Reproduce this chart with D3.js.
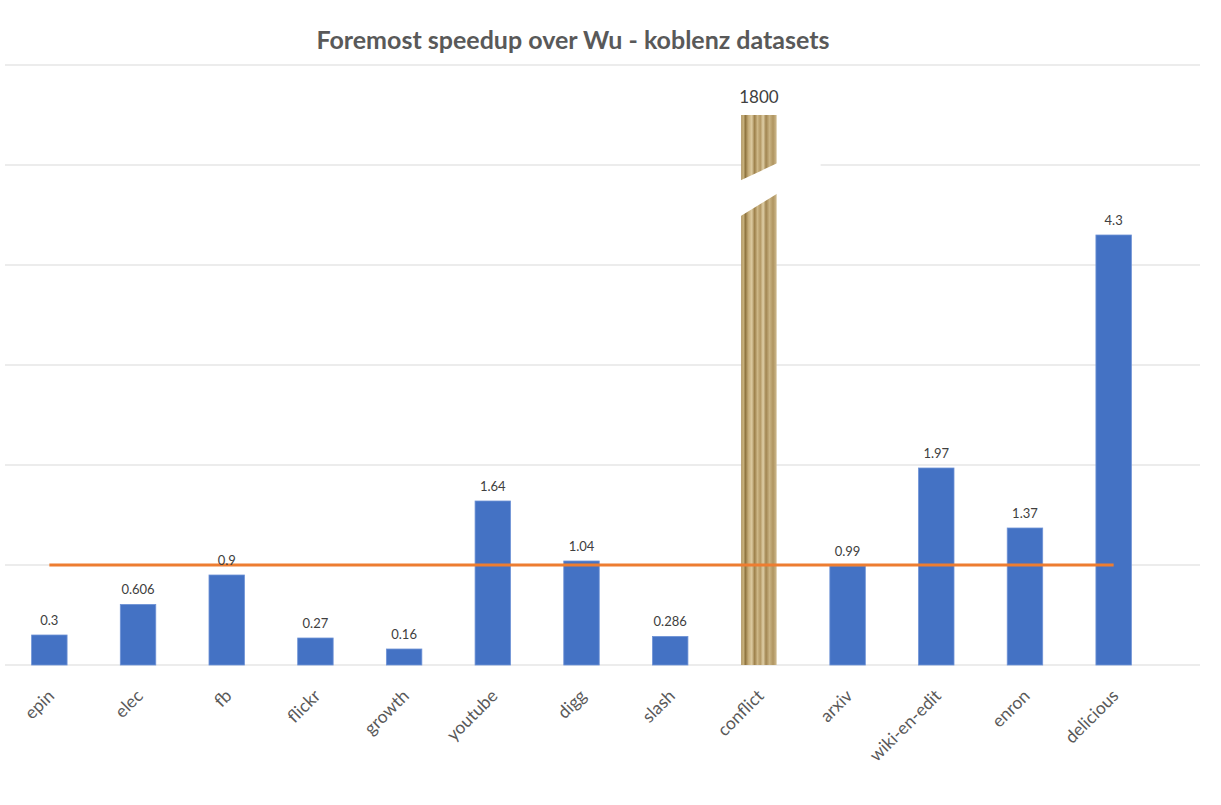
<!DOCTYPE html>
<html>
<head>
<meta charset="utf-8">
<script src="https://cdn.jsdelivr.net/npm/d3@7"></script>
<style>
  body { margin: 0; background: #fff; }
  svg { display: block; font-family: Lato, "Open Sans", sans-serif; }
</style>
</head>
<body>
<svg width="1221" height="805"></svg>
<script>
const width = 1221;
const height = 805;

const datasets = ["epin", "elec", "fb", "flickr", "growth", "youtube", "digg", "slash", "conflict", "arxiv", "wiki-en-edit", "enron", "delicious"];
const speedup = [0.3, 0.606, 0.9, 0.27, 0.16, 1.64, 1.04, 0.286, 1800, 0.99, 1.97, 1.37, 4.3];
const yTicks = [0, 1, 2, 3, 4, 5, 6];
const baseline = 1;      // speedup of 1 = same as Wu
const breakAt = 5.5;     // values above this are drawn as a broken bar

const data = datasets.map((d, i) => ({ name: d, value: speedup[i] }));

const svg = d3.select("svg");

const x = d3.scaleBand()
  .domain(datasets)
  .range([5, 1158])
  .paddingInner(0.6)
  .paddingOuter(0.3);

const y = d3.scaleLinear()
  .domain([0, 6])
  .range([665, 65]);

// title
svg.append("text")
  .attr("x", 573)
  .attr("y", 49)
  .attr("text-anchor", "middle")
  .attr("font-size", 25)
  .attr("font-weight", "bold")
  .attr("fill", "#595959")
  .text("Foremost speedup over Wu - koblenz datasets");

// gridlines
svg.append("g")
  .selectAll("line")
  .data(yTicks)
  .join("line")
  .attr("x1", 5)
  .attr("x2", 1200)
  .attr("y1", d => y(d))
  .attr("y2", d => y(d))
  .attr("stroke", "#d9d9d9")
  .attr("stroke-width", 1);

// gold striped fill for the broken bar
const defs = svg.append("defs");
const grad = defs.append("linearGradient")
  .attr("id", "gold")
  .attr("x1", "0%").attr("x2", "100%")
  .attr("y1", "0%").attr("y2", "0%");
const goldStops = [
  [0, "#a98d58"], [0.06, "#cbb581"], [0.12, "#8f743f"], [0.2, "#c4ab77"],
  [0.3, "#dccaa0"], [0.38, "#9d804a"], [0.46, "#cdb787"], [0.54, "#b39864"],
  [0.62, "#dfcfa7"], [0.7, "#a08450"], [0.8, "#c9b383"], [0.9, "#af9460"],
  [1, "#cfbb8f"]
];
grad.selectAll("stop")
  .data(goldStops)
  .join("stop")
  .attr("offset", d => d[0])
  .attr("stop-color", d => d[1]);

const bars = svg.append("g");

bars.selectAll("rect")
  .data(data)
  .join("rect")
  .attr("x", d => x(d.name))
  .attr("width", x.bandwidth())
  .attr("y", d => y(Math.min(d.value, breakAt)))
  .attr("height", d => y(0) - y(Math.min(d.value, breakAt)))
  .attr("fill", d => d.value > breakAt ? "url(#gold)" : "#4472c4")
  .attr("stroke", d => d.value > breakAt ? "none" : "#6f93d6")
  .attr("stroke-width", 0.8);

// break mark on the tall bar
data.filter(d => d.value > breakAt).forEach(d => {
  const x0 = x(d.name) - 2;
  const x1 = x(d.name) + x.bandwidth() + 44;
  const yb = y(4.82);
  svg.append("polygon")
    .attr("points", [
      [x0, yb - 2], [x1, yb - 40], [x1, yb - 16], [x0, yb + 34]
    ].map(p => p.join(",")).join(" "))
    .attr("fill", "#fff");
});

// reference line at speedup = 1
svg.append("line")
  .attr("x1", x(datasets[0]) + x.bandwidth() / 2)
  .attr("x2", x(datasets[datasets.length - 1]) + x.bandwidth() / 2)
  .attr("y1", y(baseline))
  .attr("y2", y(baseline))
  .attr("stroke", "#ed7d31")
  .attr("stroke-width", 3);

// value labels
svg.append("g")
  .selectAll("text")
  .data(data)
  .join("text")
  .attr("x", d => x(d.name) + x.bandwidth() / 2)
  .attr("y", d => d.value > breakAt ? y(breakAt) - 12 : y(d.value) - 10)
  .attr("text-anchor", "middle")
  .attr("font-size", d => d.value > breakAt ? 17 : 13)
  .attr("fill", "#404040")
  .text(d => d.value);

// x axis labels
svg.append("g")
  .selectAll("text")
  .data(datasets)
  .join("text")
  .attr("transform", d => `translate(${x(d) + x.bandwidth() / 2 + 6},${697}) rotate(-45)`)
  .attr("text-anchor", "end")
  .attr("font-size", 17.5)
  .attr("fill", "#595959")
  .text(d => d);
</script>
</body>
</html>
